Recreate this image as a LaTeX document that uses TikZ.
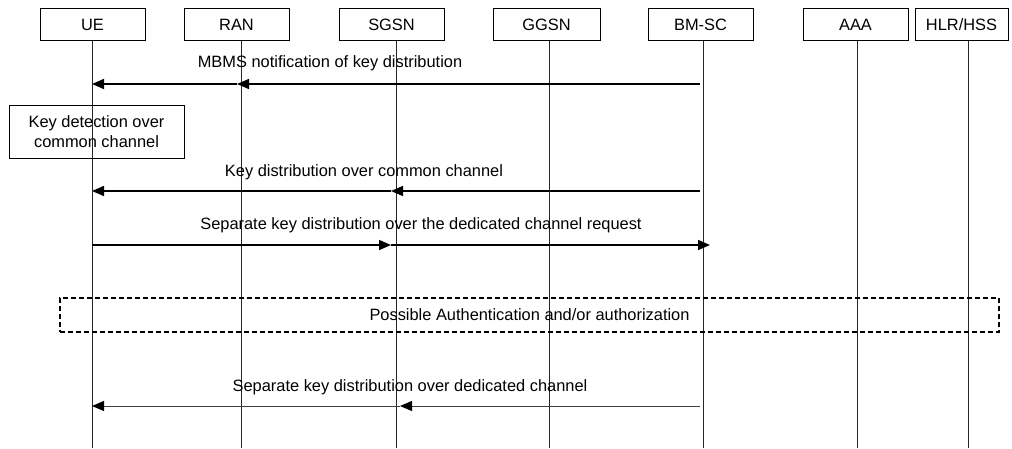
\documentclass[tikz,border=0pt]{standalone}
\usepackage{fontspec}
\setmainfont{Liberation Sans}
\usetikzlibrary{arrows.meta}

\begin{document}
\begin{tikzpicture}[x=1pt,y=-1pt,font=\fontsize{16.4}{20}\selectfont,
  entity/.style={draw,thin,minimum height=32pt,inner sep=0pt},
  lifeline/.style={draw=black!85,line width=1pt},
  msg/.style={line width=1.5pt,-{Triangle[length=12pt,width=10pt]}},
  thinmsg/.style={draw=black!75,line width=1pt,-{Triangle[length=12pt,width=10pt,black]}},
  note/.style={draw,thin,align=center,inner sep=0pt}]
  \useasboundingbox (0,0) rectangle (1012,448);
  \foreach \n/\t/\bx/\lx/\w in {ue/UE/92.5/92/105,ran/RAN/236.5/241/105,sgsn/SGSN/391.5/396/105,
      ggsn/GGSN/546.5/549/107,bmsc/BM-SC/700.5/703/105,aaa/AAA/855.5/857/105,hlr/{HLR/HSS}/961.5/968/93}{
    \node[entity,minimum width=\w pt] (\n) at (\bx,24.5) {\t};
    \coordinate (\n-bot) at (\lx,448);
    \draw[lifeline] (\n-bot |- \n.south) -- (\n-bot);
  }
  \coordinate (m1) at (0,84);
  \coordinate (m2) at (0,191);
  \coordinate (m3) at (0,245);
  \coordinate (m4) at (0,406);
  \node (t1) at (330,63) {MBMS notification of key distribution};
  \draw[msg,shorten <=3pt] (bmsc-bot |- m1) -- ([xshift=-4pt]ran-bot |- m1);
  \draw[msg] ([xshift=-4pt]ran-bot |- m1) -- (ue-bot |- m1);
  \node[note,minimum width=175pt,minimum height=53pt] (kd) at (96.5,131.5) {Key detection over\\common channel};
  \node (t2) at (364,172) {Key distribution over common channel};
  \draw[msg,shorten <=3pt] (bmsc-bot |- m2) -- ([xshift=-5pt]sgsn-bot |- m2);
  \draw[msg] ([xshift=-5pt]sgsn-bot |- m2) -- (ue-bot |- m2);
  \node (t3) at (421,225) {Separate key distribution over the dedicated channel request};
  \draw[msg] (ue-bot |- m3) -- ([xshift=-5pt]sgsn-bot |- m3);
  \draw[msg,shorten >=-7pt] ([xshift=-5pt]sgsn-bot |- m3) -- (bmsc-bot |- m3);
  \node[draw,dashed,dash pattern=on 5pt off 3pt,line width=1.6pt,minimum width=939pt,minimum height=34pt] (auth) at (529.5,315) {Possible Authentication and/or authorization};
  \node (t4) at (410,387) {Separate key distribution over dedicated channel};
  \draw[thinmsg,shorten <=3pt] (bmsc-bot |- m4) -- ([xshift=4pt]sgsn-bot |- m4);
  \draw[thinmsg] ([xshift=4pt]sgsn-bot |- m4) -- (ue-bot |- m4);
\end{tikzpicture}
\end{document}
